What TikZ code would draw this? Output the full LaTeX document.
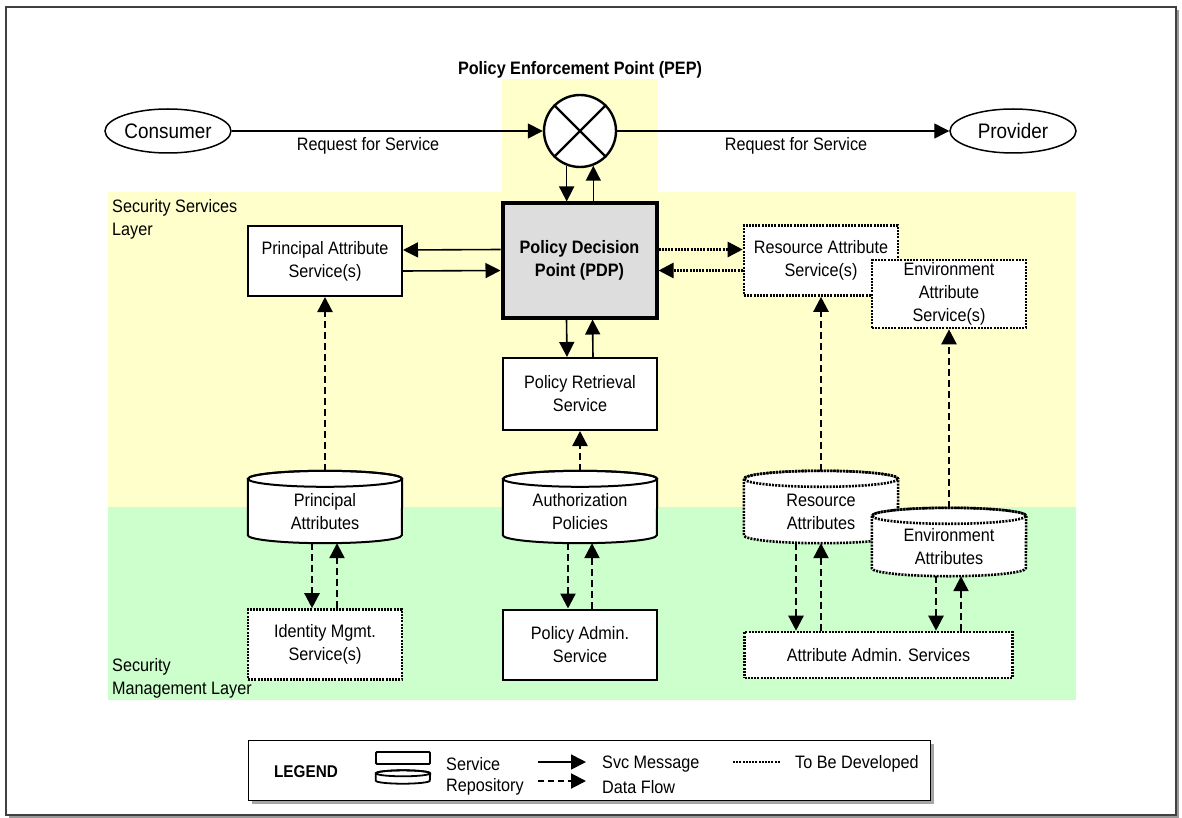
\documentclass[tikz,border=0pt]{standalone}
\usepackage{fontspec}
\setmainfont[FakeStretch=0.9]{Liberation Sans}
\usetikzlibrary{arrows.meta,positioning,shapes.geometric}
\tikzset{>={Triangle[length=15pt,width=15pt]}}
\definecolor{svcyellow}{RGB}{255,255,204}
\definecolor{mgmtgreen}{RGB}{204,255,204}
\definecolor{pdpgray}{RGB}{221,221,221}
\pgfdeclarelayer{bands}
\pgfdeclarelayer{shapes}
\pgfsetlayers{bands,shapes,main}
% repository outline round a node: [style]{node}{x radius}{y radius}
\newcommand{\drawrepo}[4][]{%
  \filldraw[fill=white,#1] ([yshift=-#4]#2.north west) -- ([yshift=#4]#2.south west)
    arc[start angle=180,end angle=360,x radius=#3,y radius=#4]
    -- ([yshift=-#4]#2.north east)
    arc[start angle=0,end angle=180,x radius=#3,y radius=#4] -- cycle;
  \draw[#1] ([yshift=-#4]#2.north) ellipse[x radius=#3,y radius=#4];}

\begin{document}
\begin{tikzpicture}[x=1pt,y=-1pt,
    every node/.style={font=\fontsize{18}{23}\selectfont,inner sep=0pt},
    svc/.style={draw,line width=2pt,fill=white,minimum width=154pt,minimum height=70pt,align=center},
    repo/.style={minimum width=154pt,minimum height=72pt,align=center,text height=46pt},
    tbd/.style={line width=2.6pt,dash pattern=on 2pt off 1.2pt},
    endpt/.style={draw,ellipse,line width=1.5pt,minimum width=126pt,minimum height=44pt,font=\fontsize{21}{24}\selectfont},
    msg/.style={->,line width=1.6pt},
    flow/.style={->,line width=2.4pt,dash pattern=on 7pt off 4pt},
    dev/.style={->,tbd}]
  \useasboundingbox (0,0) rectangle (1182,818);
  % frame
  \draw[line width=2pt,black!40] (1178,10) -- (1178,817) -- (9,817);
  \draw[line width=1.5pt,black!75] (6,7) rectangle (1176,815);

  % top row
  \node[endpt] (consumer) at (168,131) {Consumer};
  \node[endpt] (provider) at (1013,131) {Provider};
  \node[draw,circle,line width=2.4pt,fill=white,minimum size=72pt] (pep) at (580,131) {};
  \draw[line width=2.2pt] (pep.45) -- (pep.225) (pep.135) -- (pep.315);
  \node[font=\fontsize{18}{23}\selectfont\bfseries] (peptitle) at (580,70) {Policy Enforcement Point (PEP)};
  \draw[msg,line width=1.4pt] (consumer) -- (pep);
  \draw[msg,line width=1.4pt] (pep) -- (provider);
  \node (reqin) at (368,146) {Request for Service};
  \node (reqout) at (796,146) {Request for Service};

  % security services layer
  \node[svc,fill=pdpgray,line width=4pt,minimum height=114pt,font=\fontsize{18}{23}\selectfont\bfseries] (pdp) at (579.5,260.5) {Policy Decision\\Point (PDP)};
  \node[svc] (pas) at (325,261) {Principal Attribute\\Service(s)};
  \node[svc,tbd] (ras) at (821,260.5) {Resource Attribute\\Service(s)};
  \node[svc,tbd,minimum height=68pt] (eas) at (949,294) {Environment\\Attribute\\Service(s)};
  \node[svc,minimum height=72pt] (prs) at (580,394) {Policy Retrieval\\Service};

  % repositories
  \node[repo] (pa) at (325,507) {Principal\\Attributes};
  \node[repo] (auth) at (580,507) {Authorization\\Policies};
  \node[repo] (ra) at (821,507) {Resource\\Attributes};
  \node[repo,minimum height=68pt] (ea) at (949,542) {Environment\\Attributes};

  % security management layer
  \node[svc,tbd] (ims) at (325,644.5) {Identity Mgmt.\\Service(s)};
  \node[svc] (padm) at (580,644.5) {Policy Admin.\\Service};
  \node[svc,tbd,minimum width=268pt,minimum height=46pt] (aas) at (878.5,655) {Attribute Admin. Services};

  \node[anchor=north west,align=left] (ssl) at (112,199) {Security Services\\Layer};
  \node[anchor=south west,align=left] (sml) at (112,698) {Security\\Management Layer};

  % connectors
  \draw[msg] (pep.249) -- (pep.249 |- pdp.north);
  \draw[msg] (pep.291 |- pdp.north) -- (pep.291);
  \draw[msg] ([yshift=11pt]pdp.west) -- ([yshift=11pt]pas.east);
  \draw[msg] ([yshift=-10pt]pas.east) -- ([yshift=-10pt]pdp.west);
  \draw[dev] ([yshift=11pt]pdp.east) -- ([yshift=11pt]ras.west);
  \draw[dev] ([yshift=-10pt]ras.west) -- ([yshift=-10pt]pdp.east);
  \draw[msg] ([xshift=-13pt]pdp.south) -- ([xshift=-13pt]prs.north);
  \draw[msg] ([xshift=13pt]prs.north) -- ([xshift=13pt]pdp.south);
  \draw[flow] (auth) -- (prs);
  \draw[flow] (pa) -- (pas);
  \draw[flow] (ra) -- (ras);
  \draw[flow] (ea) -- (eas);
  \draw[flow] ([xshift=-13pt]pa.south) -- ([xshift=-13pt]ims.north);
  \draw[flow] ([xshift=12pt]ims.north) -- ([xshift=12pt]pa.south);
  \draw[flow] ([xshift=-12pt]auth.south) -- ([xshift=-12pt]padm.north);
  \draw[flow] ([xshift=12pt]padm.north) -- ([xshift=12pt]auth.south);
  \draw[flow] ([xshift=-25pt]ra.south) -- ([xshift=-25pt]ra.south |- aas.north);
  \draw[flow] (ra.south |- aas.north) -- (ra.south);
  \draw[flow] ([xshift=-13pt]ea.south) -- ([xshift=-13pt]ea.south |- aas.north);
  \draw[flow] ([xshift=12pt]ea.south |- aas.north) -- ([xshift=12pt]ea.south);

  % legend
  \fill[black!35] (252,744) rectangle (934,804);
  \node[draw,fill=white,line width=0.8pt,minimum width=682pt,minimum height=60pt] (legend) at (589,770) {};
  \node[font=\fontsize{17}{20}\selectfont\bfseries] (legtitle) at (306,772) {LEGEND};
  \node[draw,line width=1.8pt,rounded corners=1pt,minimum width=54pt,minimum height=12pt] (lsvc) at (403,758) {};
  \node[minimum width=54pt,minimum height=13pt] (lrepo) at (403,777) {};
  \drawrepo[line width=1.8pt]{lrepo}{27pt}{3pt}
  \node[anchor=west] (lsvctext) at (446,764) {Service};
  \node[anchor=west] (lrepotext) at (446,787) {Repository};
  \draw[msg] (538,762) -- (586,762);
  \draw[flow,line width=2pt,dash pattern=on 6pt off 4pt] (538,781) -- (586,781);
  \node[anchor=west] (lmsgtext) at (602,764) {Svc Message};
  \node[anchor=west] (lflowtext) at (602,787) {Data Flow};
  \draw[tbd,line width=2.2pt] (733,762) -- (780,762);
  \node[anchor=west] (ltbdtext) at (795,764) {To Be Developed};

  \begin{pgfonlayer}{shapes}
    \drawrepo[line width=2pt]{pa}{77pt}{8pt}
    \drawrepo[line width=2pt]{auth}{77pt}{8pt}
    \drawrepo[tbd]{ra}{77pt}{8pt}
    \drawrepo[tbd]{ea}{77pt}{8pt}
  \end{pgfonlayer}
  \begin{pgfonlayer}{bands}
    \fill[svcyellow] (502,79) rectangle (658,193);
    \fill[svcyellow] (108,192) rectangle (1076,508);
    \fill[mgmtgreen] (108,507) rectangle (1076,700);
  \end{pgfonlayer}
\end{tikzpicture}
\end{document}
